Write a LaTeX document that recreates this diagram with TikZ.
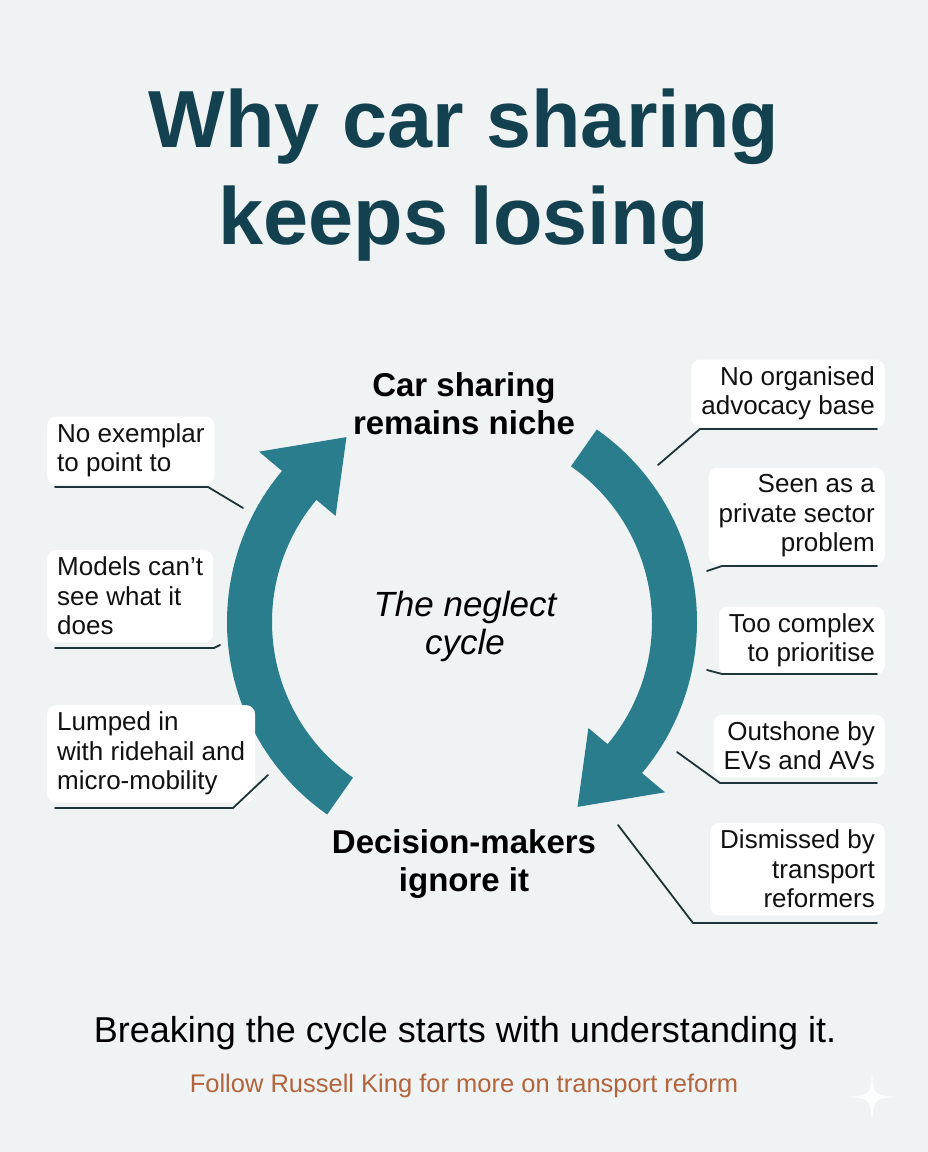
\documentclass[tikz,border=0pt]{standalone}
\usepackage{fontspec}
\setmainfont{Liberation Sans}

\begin{document}
\begin{tikzpicture}[x=1pt, y=1pt,
    title/.style={font=\fontsize{81}{97}\selectfont\bfseries, text=titleColour, anchor=base, inner sep=0pt},
    stage/.style={font=\fontsize{33}{38.5}\selectfont\bfseries, align=center, anchor=base},
    note/.style={fill=white, rounded corners=9pt, inner xsep=10pt, inner ysep=7pt,
      font=\fontsize{26}{29.5}\selectfont, text=inkColour},
    leftnote/.style={note, align=left, anchor=base west},
    rightnote/.style={note, align=right, anchor=base east},
    leader/.style={draw=lineColour, line width=1.8pt, line cap=round, line join=round}]
    % Define colours
    \definecolor{paperColour}{HTML}{F0F3F4}
    \definecolor{titleColour}{HTML}{144150}
    \definecolor{arrowColour}{HTML}{2A7D8C}
    \definecolor{inkColour}{HTML}{111111}
    \definecolor{lineColour}{HTML}{1F3439}
    \definecolor{followColour}{HTML}{B4643C}

    % Define radii of the cycle
    \def\rOut{235}
    \def\rIn{190}
    \def\rHeadOut{265}
    \def\rHeadIn{165}
    \def\rTip{218}

  % Draw the page
  \fill[paperColour] (0,0) rectangle (928,1152);
  \useasboundingbox (0,0) rectangle (928,1152);

  % Title
  \node[title] (title1) at (464,1004) {Why car sharing};
  \node[title] (title2) at (464,907) {keeps losing};

  % Draw the two arrows of the cycle
  \begin{scope}[shift={(462,530)}]
    \coordinate (C) at (0,0);
    \fill[arrowColour] (55:\rOut) arc[start angle=55, end angle=-40, radius=\rOut]
      -- (-40:\rHeadOut) -- (-58:\rTip) -- (-40:\rHeadIn) -- (-40:\rIn)
      arc[start angle=-40, end angle=55, radius=\rIn] -- cycle;
    \fill[arrowColour] (235:\rOut) arc[start angle=235, end angle=140, radius=\rOut]
      -- (140:\rHeadOut) -- (122:\rTip) -- (140:\rHeadIn) -- (140:\rIn)
      arc[start angle=140, end angle=235, radius=\rIn] -- cycle;
  \end{scope}

  % Label the stages and the middle (anchored on the last line)
  \node[stage] (top) at (464,717) {Car sharing\\remains niche};
  \node[stage] (bottom) at (464,260) {Decision-makers\\ignore it};
  \node[font=\fontsize{35}{38}\selectfont\itshape, align=center, anchor=base] (centre) at (465,497) {The neglect\\cycle};

  % Reasons on the left
  \node[leftnote] (L1) at (47,680) {No exemplar\\to point to};
  \node[leftnote] (L2) at (47,517) {Models can’t\\see what it\\does};
  \node[leftnote] (L3) at (47,362) {Lumped in\\with ridehail and\\micro-mobility};

  % Reasons on the right
  \node[rightnote] (R1) at (885,737) {No organised\\advocacy base};
  \node[rightnote] (R2) at (885,600) {Seen as a\\private sector\\problem};
  \node[rightnote] (R3) at (885,490) {Too complex\\to prioritise};
  \node[rightnote] (R4) at (885,382) {Outshone by\\EVs and AVs};
  \node[rightnote] (R5) at (885,244) {Dismissed by\\transport\\reformers};

  % Define the bends and ends of the leader lines
  \coordinate (L1-bend) at (208,665);
  \coordinate (L1-tip) at (243,644);
  \coordinate (L2-bend) at (214,504);
  \coordinate (L2-tip) at (220,507);
  \coordinate (L3-bend) at (233,344);
  \coordinate (L3-tip) at (268,377);
  \coordinate (R1-bend) at (700,723);
  \coordinate (R1-tip) at (658,687);
  \coordinate (R2-bend) at (722,586);
  \coordinate (R2-tip) at (707,581);
  \coordinate (R3-bend) at (722,478);
  \coordinate (R3-tip) at (707,482);
  \coordinate (R4-bend) at (720,369);
  \coordinate (R4-tip) at (677,400);
  \coordinate (R5-bend) at (693,229);
  \coordinate (R5-tip) at (618,327);

  % Underline each reason and lead it off
  \foreach \n in {L1,L2,L3}
    \draw[leader] ([xshift=8pt]\n.west |- \n-bend) -- (\n-bend) -- (\n-tip);
  \foreach \n in {R1,R2,R3,R4,R5}
    \draw[leader] ([xshift=-8pt]\n.east |- \n-bend) -- (\n-bend) -- (\n-tip);

  % Footer
  \node[font=\fontsize{36}{40}\selectfont, anchor=base] (tagline) at (465,109) {Breaking the cycle starts with understanding it.};
  \node[font=\fontsize{25.5}{30}\selectfont, text=followColour, anchor=base] (follow) at (464,59) {Follow Russell King for more on transport reform};

  % Small sparkle in the corner
  \fill[white, opacity=0.85] (872,79) .. controls (874,57) .. (895,55)
    .. controls (874,53) .. (872,31) .. controls (870,53) .. (849,55)
    .. controls (870,57) .. (872,79) -- cycle;

\end{tikzpicture}
\end{document}
